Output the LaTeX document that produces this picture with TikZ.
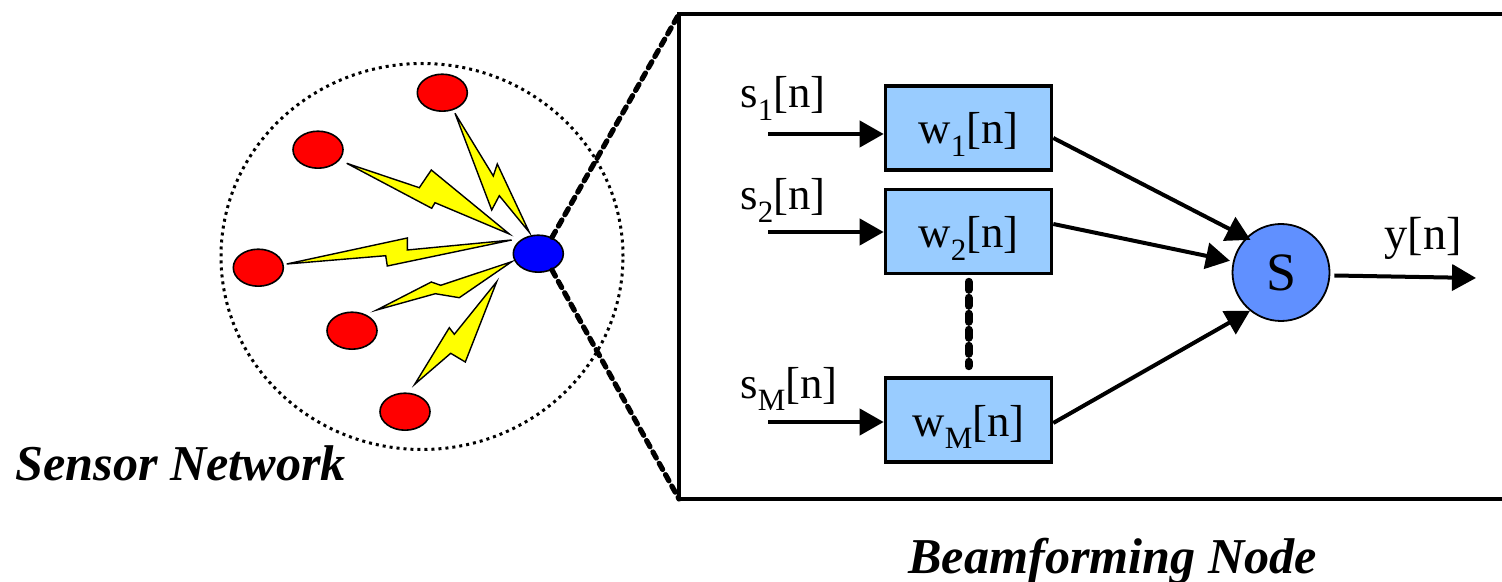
\documentclass[tikz,border=0pt]{standalone}
\usepackage{fontspec}
\setmainfont{Liberation Serif}
\usetikzlibrary{arrows.meta, calc, shapes.geometric}
\definecolor{sensor}{RGB}{255, 0, 0}
\definecolor{hub}{RGB}{0, 0, 255}
\definecolor{bolt}{RGB}{255, 255, 0}
\definecolor{weight}{RGB}{153, 204, 255}
\definecolor{adder}{RGB}{96, 144, 255}
\newcommand{\subsig}[2]{#1\raisebox{-0.28em}{\fontsize{15.5}{16}\selectfont #2}[n]}

\begin{document}
\begin{tikzpicture}[
    x=0.5pt, y=-0.5pt,
    >={Triangle[length=12pt, width=13pt]},
    sensor/.style={ellipse, draw=black, line width=0.8pt, fill=sensor, minimum width=25pt, minimum height=18.5pt, inner sep=0pt},
    boltshape/.style={draw=black, line width=0.7pt, fill=bolt},
    weightbox/.style={rectangle, draw=black, line width=1.8pt, fill=weight, minimum width=83pt, minimum height=42pt, inner sep=0pt, text height=16pt, text depth=0pt, font=\fontsize{22.4}{24}\selectfont},
    sig/.style={font=\fontsize{22.4}{24}\selectfont, inner sep=0pt},
    caption/.style={font=\fontsize{25.1}{28}\selectfont\bfseries\itshape, inner sep=0pt},
    arr/.style={->, line width=2pt},
    zoomline/.style={line width=2.6pt, line cap=round, dash pattern=on 3.5pt off 3pt}
  ]
  \useasboundingbox (0,0) rectangle (1502,582);

  % Network
  \node[ellipse, draw=black, line width=1.5pt, dash pattern=on 1.5pt off 2pt, minimum width=201pt, minimum height=193pt, inner sep=0pt] (net) at (422,256.5) {};
  \foreach \i/\pos in {1/{442.3,92.7}, 2/{318,149.7}, 3/{258.3,267.7}, 4/{352,330.7}, 5/{405,411.7}} {
    \node[sensor] (s\i) at (\pos) {};
  }
  \node[sensor, fill=hub] (hub) at (538.3,253.7) {};

  % Bolts
  \draw[boltshape] (455,113.3) -- (493.3,176) -- (497.3,164) -- (529.3,232.3) -- (499.3,195.7) -- (491.7,210) -- cycle;
  \draw[boltshape] (346.7,163.3) -- (419.3,187.7) -- (431.3,170) -- (509.3,234) -- (435,202.7) -- (431.7,208.3) -- cycle;
  \draw[boltshape] (286.7,264) -- (407.3,238) -- (407.3,250) -- (511.7,240) -- (387.3,266) -- (385.7,255.7) -- cycle;
  \draw[boltshape] (376.7,310) -- (431.3,282) -- (440.7,285.3) -- (511.7,261.7) -- (459.3,297.7) -- (435.3,293.7) -- cycle;
  \draw[boltshape] (414.7,384.3) -- (449.3,327.7) -- (454.3,334.3) -- (496.7,281.7) -- (465.3,362) -- (450.7,353.3) -- cycle;

  % Frame
  \coordinate (ftop) at (679,14);
  \coordinate (fbot) at (679,499);
  \coordinate (ftopr) at (1502,14);
  \coordinate (fbotr) at (1502,499);
  \draw[line width=2pt] (ftopr) -- (ftop) -- (fbot) -- (fbotr);
  \draw[zoomline] (hub.50) -- (ftop);
  \draw[zoomline] (hub.-50) -- (fbot);

  % Weights
  \node[weightbox] (w1) at (968.5,128) {\subsig{w}{1}};
  \node[weightbox] (w2) at (968.5,231.5) {\subsig{w}{2}};
  \node[weightbox] (wM) at (968.5,420) {\subsig{w}{M}};
  \node[circle, draw=black, line width=0.9pt, fill=adder, minimum size=48.5pt, inner sep=0pt, font=\fontsize{27}{30}\selectfont] (sum) at (1281,272.5) {S};

  % Inputs
  \foreach \n/\ypos in {1/134, 2/232, M/422} {
    \coordinate (in\n) at (768,\ypos);
    \draw[arr] (in\n) -- (in\n -| w\n.west);
  }
  \node[sig, anchor=base west] (ls1) at (740,108) {\subsig{s}{1}};
  \node[sig, anchor=base west] (ls2) at (740,210) {\subsig{s}{2}};
  \node[sig, anchor=base west] (lsM) at (740,398) {\subsig{s}{M}};

  % To adder
  \draw[arr, shorten >=-2.5pt] ([yshift=-5pt]w1.east) -- (sum.135);
  \draw[arr, shorten >=1.5pt] ([yshift=3.75pt]w2.east) -- (sum.167);
  \draw[arr] ([yshift=-1.5pt]wM.east) -- (sum.231);
  \draw[line width=4pt, line cap=round, dash pattern=on 4pt off 4pt, shorten <=3.25pt, shorten >=5pt] (w2) -- (wM);

  % Output
  \coordinate (yout) at (1476,278);
  \draw[arr] ([xshift=2pt,yshift=-1.5pt]sum.east) -- (yout);
  \node[sig, anchor=base, font=\fontsize{23.2}{26}\selectfont] (ly) at (1423,250) {y[n]};

  % Captions
  \node[caption, anchor=base west] (cnet) at (15,480) {Sensor Network};
  \node[caption, anchor=base west] (cbeam) at (908,573) {Beamforming Node};
\end{tikzpicture}
\end{document}
